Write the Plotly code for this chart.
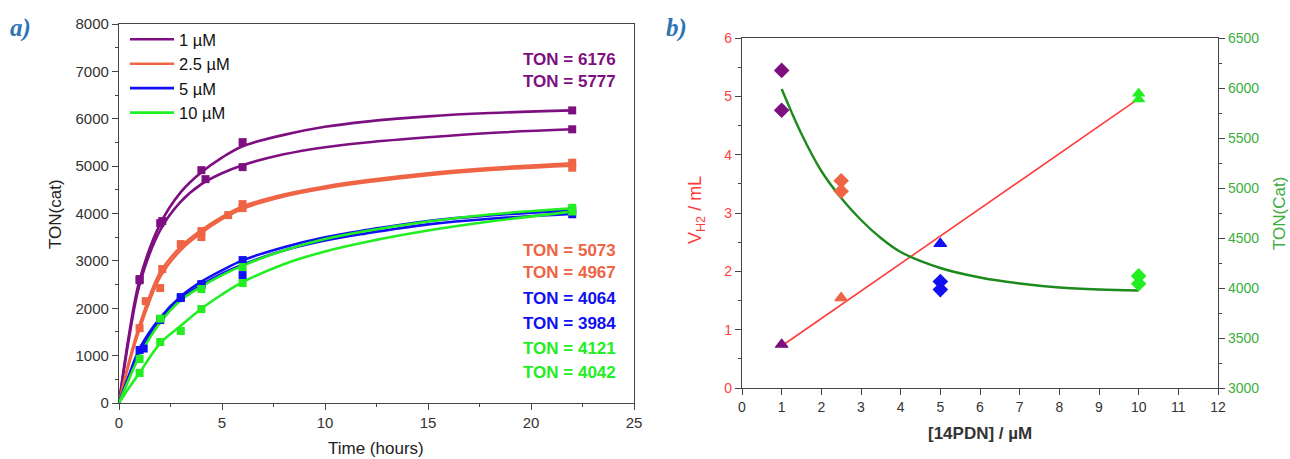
import plotly.graph_objects as go

# ---------------- Panel a) data ----------------
CURVE_T = [0, 0.5, 1, 2, 3, 4, 5, 6, 8, 10, 12, 15, 18, 22]
FIT_P1 = [0, 1480, 2600, 3780, 4450, 4870, 5180, 5420, 5660, 5830, 5940, 6050, 6120, 6176]
FIT_P2 = [0, 1400, 2500, 3650, 4250, 4620, 4850, 5020, 5250, 5400, 5500, 5610, 5700, 5777]
FIT_O1 = [0, 900, 1650, 2760, 3300, 3650, 3930, 4150, 4400, 4570, 4700, 4850, 4960, 5060]
FIT_O2 = [0, 850, 1560, 2660, 3230, 3590, 3880, 4100, 4360, 4530, 4660, 4810, 4920, 5010]
FIT_B1 = [0, 600, 1150, 1800, 2250, 2560, 2800, 3010, 3290, 3500, 3650, 3840, 3960, 4060]
FIT_B2 = [0, 580, 1100, 1740, 2200, 2490, 2730, 2920, 3220, 3430, 3580, 3770, 3890, 3990]
FIT_G1 = [0, 520, 1000, 1700, 2170, 2460, 2700, 2900, 3220, 3460, 3630, 3830, 3980, 4110]
FIT_G2 = [0, 330, 640, 1260, 1630, 1990, 2290, 2550, 2930, 3200, 3400, 3640, 3830, 4040]

T_P1 = [1, 2.1, 4, 6, 22];          V_P1 = [2616, 3840, 4915, 5506, 6176]
T_P2 = [1, 2, 4.2, 6, 22];          V_P2 = [2590, 3797, 4725, 4979, 5777]
T_O1 = [1, 2.1, 3, 4, 6, 22];       V_O1 = [1580, 2827, 3354, 3629, 4198, 5073]
T_O2 = [1.3, 2, 4, 5.3, 6, 22];     V_O2 = [2150, 2426, 3502, 3966, 4114, 4967]
T_B1 = [1, 2, 3, 4, 6, 22];         V_B1 = [1118, 1772, 2236, 2510, 3017, 4064]
T_B2 = [1.2, 2, 3, 4, 6, 22];       V_B2 = [1150, 1751, 2215, 2489, 2700, 3984]
T_G1 = [1, 2, 4, 6, 22];            V_G1 = [928, 1780, 2405, 2870, 4121]
T_G2 = [1, 2, 3, 4, 6, 22];         V_G2 = [633, 1287, 1519, 1983, 2532, 4042]

LEGEND_NAMES = ["1 µM", "2.5 µM", "5 µM", "10 µM"]
TON_LABELS = ["TON = 6176", "TON = 5777", "TON = 5073", "TON = 4967",
              "TON = 4064", "TON = 3984", "TON = 4121", "TON = 4042"]

# ---------------- Panel b) data ----------------
CONC = [1, 2.5, 5, 10]
TON_RUN1 = [6176, 5073, 4064, 4121]
TON_RUN2 = [5777, 4967, 3984, 4042]
VH2_RUN1 = [0.75, 1.55, 2.48, 5.05]
VH2_RUN2 = [0.74, 1.54, 2.47, 4.95]
LIN_X = [1, 10]
LIN_V = [0.72, 4.96]
EXP_X = [1, 1.5, 2, 2.5, 3, 3.5, 4, 5, 6, 7, 8, 9, 10]
EXP_TON = [5990, 5540, 5170, 4900, 4680, 4500, 4360, 4200, 4105, 4045, 4005, 3985, 3975]

# ---------------- styles ----------------
PURPLE = "#7E0F80"
ORANGE = "#EE6444"
BLUE = "#1010F2"
GREEN = "#22EE22"
COLORS = [PURPLE, ORANGE, BLUE, GREEN]
FONT = "Arial, Liberation Sans, sans-serif"
AX = "#444444"
TXT = "#333333"

fig = go.Figure()

curves = [(FIT_P1, PURPLE, 0), (FIT_P2, PURPLE, None), (FIT_O1, ORANGE, 1), (FIT_O2, ORANGE, None),
          (FIT_B1, BLUE, 2), (FIT_B2, BLUE, None), (FIT_G1, GREEN, 3), (FIT_G2, GREEN, None)]
for vals, col, leg in curves:
    fig.add_trace(go.Scatter(x=CURVE_T, y=vals, mode="lines", line=dict(color=col, width=2.6, shape="spline"),
                             name=LEGEND_NAMES[leg] if leg is not None else "",
                             showlegend=leg is not None, xaxis="x", yaxis="y"))

marks = [(T_P1, V_P1, PURPLE), (T_P2, V_P2, PURPLE), (T_O1, V_O1, ORANGE), (T_O2, V_O2, ORANGE),
         (T_B1, V_B1, BLUE), (T_B2, V_B2, BLUE), (T_G1, V_G1, GREEN), (T_G2, V_G2, GREEN)]
for t, v, col in marks:
    fig.add_trace(go.Scatter(x=t, y=v, mode="markers", marker=dict(symbol="square", size=8, color=col),
                             showlegend=False, xaxis="x", yaxis="y"))

# panel b traces
fig.add_trace(go.Scatter(x=LIN_X, y=LIN_V, mode="lines", line=dict(color="#FF3B3B", width=1.6),
                         showlegend=False, xaxis="x2", yaxis="y2"))
fig.add_trace(go.Scatter(x=EXP_X, y=EXP_TON, mode="lines", line=dict(color="#1C8A1C", width=2.4, shape="spline"),
                         showlegend=False, xaxis="x2", yaxis="y3"))
for vals in (VH2_RUN1, VH2_RUN2):
    fig.add_trace(go.Scatter(x=CONC, y=vals, mode="markers",
                             marker=dict(symbol="triangle-up", size=12, color=COLORS),
                             showlegend=False, xaxis="x2", yaxis="y2"))
for vals in (TON_RUN1, TON_RUN2):
    fig.add_trace(go.Scatter(x=CONC, y=vals, mode="markers",
                             marker=dict(symbol="diamond", size=12, color=COLORS),
                             showlegend=False, xaxis="x2", yaxis="y3"))

W, H = 1290, 459
def px(v): return v / W
def py(v): return 1 - v / H

def axstyle(size, color=TXT):
    return dict(showline=True, linecolor=AX, linewidth=1.3, ticks="outside", ticklen=6, tickwidth=1.2,
                tickcolor=AX, showgrid=False, zeroline=False, automargin=False,
                tickfont=dict(family=FONT, size=size, color=color))

fig.update_layout(
    width=W, height=H, margin=dict(l=0, r=0, t=0, b=0, autoexpand=False),
    paper_bgcolor="white", plot_bgcolor="white", font=dict(family=FONT),
    showlegend=True,
    legend=dict(x=px(125), y=py(22), xanchor="left", yanchor="top", bgcolor="rgba(0,0,0,0)",
                font=dict(family=FONT, size=16.5, color="#111111"), tracegroupgap=0, itemwidth=44),
    xaxis=dict(domain=[px(119), px(634)], range=[0, 25], dtick=5, mirror=True, anchor="y",
               minor=dict(ticks="outside", dtick=2.5, ticklen=3, tickcolor=AX), **axstyle(15)),
    yaxis=dict(domain=[py(403), py(24)], range=[0, 8000], dtick=1000, mirror=True, anchor="x",
               minor=dict(ticks="outside", dtick=500, ticklen=3, tickcolor=AX), **axstyle(15)),
    xaxis2=dict(domain=[px(742), px(1218)], range=[0, 12], dtick=1, mirror=True, anchor="y2", **axstyle(14)),
    yaxis2=dict(domain=[py(388), py(38)], range=[0, 6], dtick=1, anchor="x2",
                minor=dict(ticks="outside", dtick=0.5, ticklen=3, tickcolor=AX), **axstyle(14, "#FF4040")),
    yaxis3=dict(range=[3000, 6500], dtick=500, overlaying="y2", side="right", anchor="x2",
                minor=dict(ticks="outside", dtick=250, ticklen=3, tickcolor=AX), **axstyle(14, "#3DAE3D")),
)

ann = []
# panel labels
ann.append(dict(text="<b><i>a)</i></b>", x=px(8), y=py(28), xanchor="left", yanchor="middle",
                font=dict(family="Liberation Serif, Times New Roman, serif", size=25, color="#2E75B6")))
ann.append(dict(text="<b><i>b)</i></b>", x=px(664), y=py(28), xanchor="left", yanchor="middle",
                font=dict(family="Liberation Serif, Times New Roman, serif", size=25, color="#2E75B6")))
# axis titles
ann.append(dict(text="TON(cat)", x=px(55), y=py(214), textangle=-90, xanchor="center", yanchor="middle",
                font=dict(family=FONT, size=17, color="#222222")))
ann.append(dict(text="Time (hours)", x=px(376), y=py(448), xanchor="center", yanchor="middle",
                font=dict(family=FONT, size=17, color="#222222")))
ann.append(dict(text="V<sub>H2</sub> / mL", x=px(697), y=py(210), textangle=-90, xanchor="center", yanchor="middle",
                font=dict(family=FONT, size=18, color="#FF3B3B")))
ann.append(dict(text="TON(Cat)", x=px(1279), y=py(214), textangle=-90, xanchor="center", yanchor="middle",
                font=dict(family=FONT, size=17, color="#3DAE3D")))
ann.append(dict(text="<b>[14PDN] / µM</b>", x=px(980), y=py(433), xanchor="center", yanchor="middle",
                font=dict(family=FONT, size=17, color="#333333")))
# TON labels
ton_y = [59, 81, 250, 272, 298, 323, 348, 372]
ton_c = [PURPLE, PURPLE, ORANGE, ORANGE, BLUE, BLUE, GREEN, GREEN]
for lab, yy, cc in zip(TON_LABELS, ton_y, ton_c):
    ann.append(dict(text="<b>" + lab + "</b>", x=px(618), y=py(yy), xanchor="right", yanchor="middle",
                    font=dict(family=FONT, size=17, color=cc)))
for a in ann:
    a.update(xref="paper", yref="paper", showarrow=False)
fig.update_layout(annotations=ann)

fig.write_html("out.html")
